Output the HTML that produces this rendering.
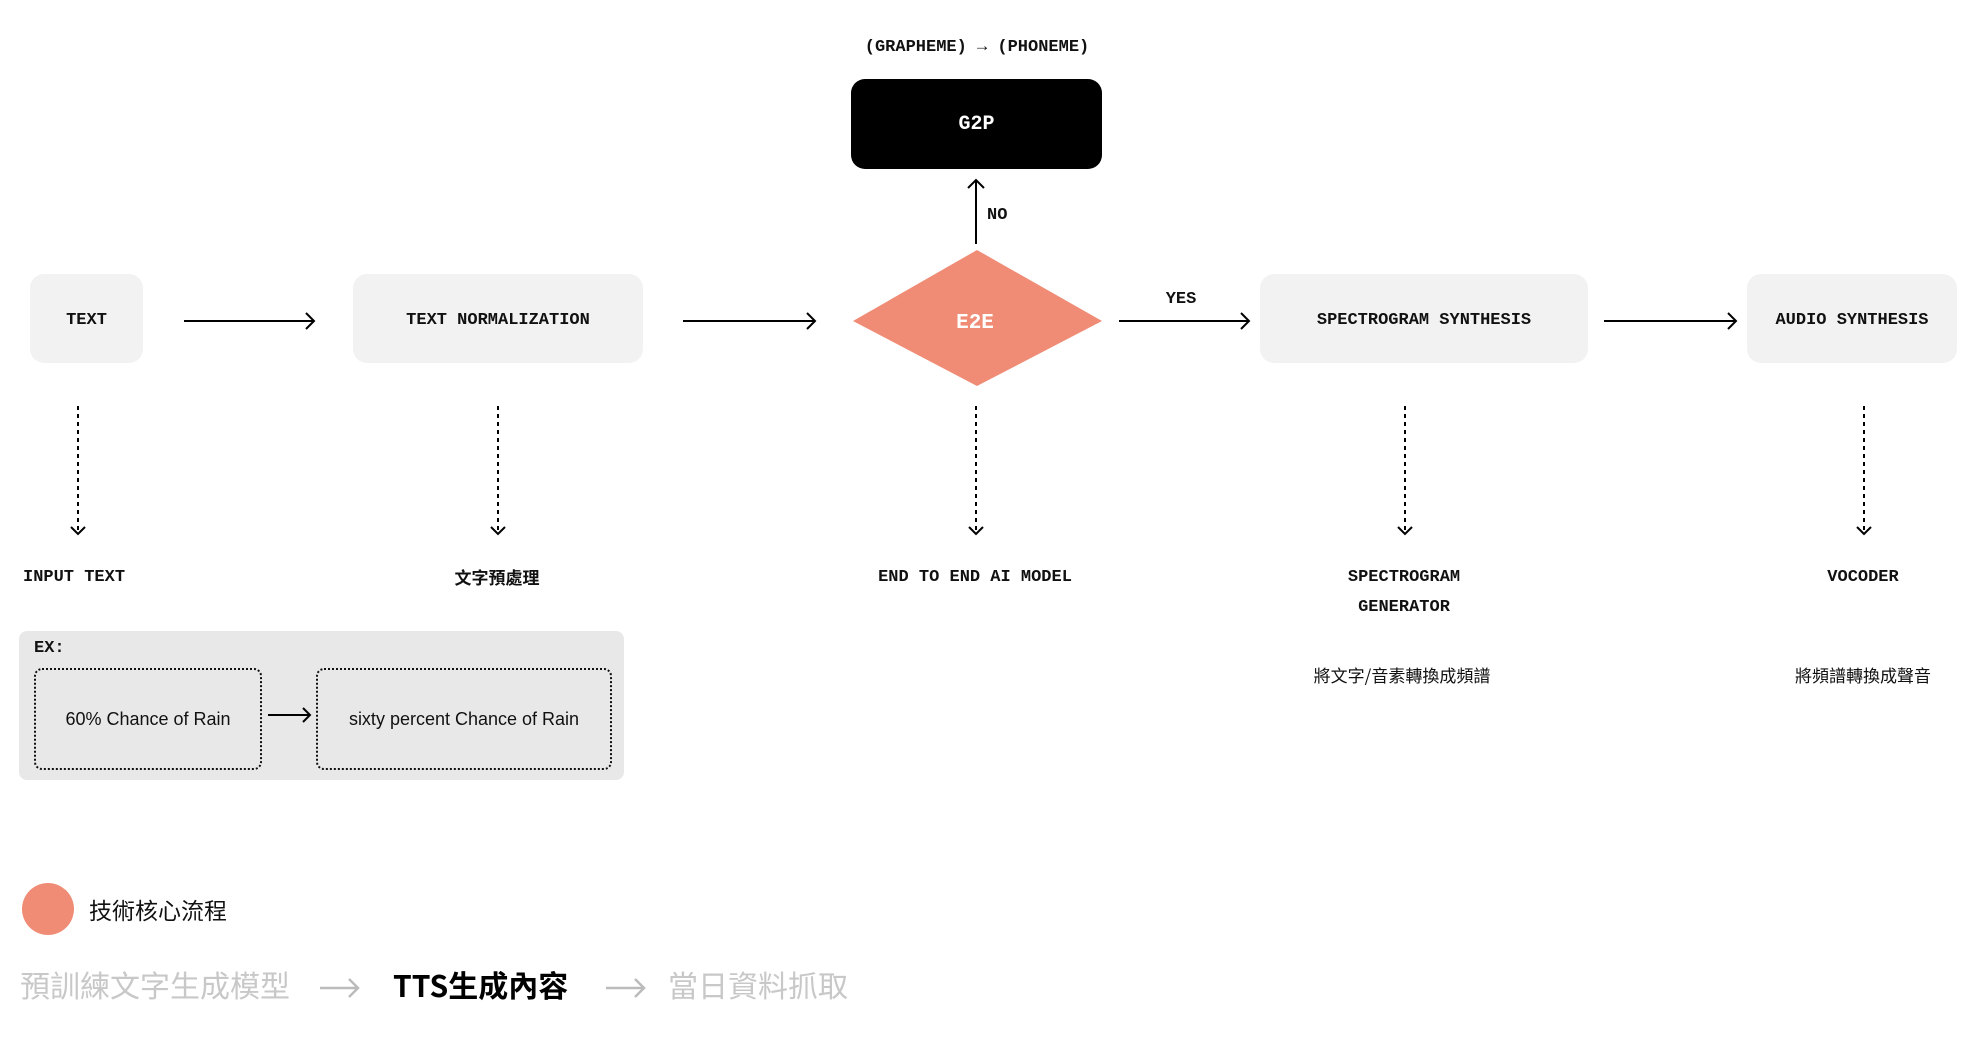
<!DOCTYPE html>
<html><head><meta charset="utf-8"><style>
body{margin:0;width:1972px;height:1037px;background:#fff;position:relative;overflow:hidden;font-family:"Liberation Sans","Noto Sans CJK TC",sans-serif;}
.a{position:absolute;}
.m{font-family:"Liberation Mono","Noto Sans CJK TC",monospace;font-weight:bold;font-size:17px;color:#111;white-space:nowrap;}
.box{position:absolute;background:#f2f2f2;border-radius:14px;display:flex;align-items:center;justify-content:center;}
.c{transform:translateX(-50%);text-align:center;}
.cj{font-family:"Noto Sans CJK TC",sans-serif;font-size:17px;color:#111;white-space:nowrap;}
</style></head><body>
<svg class="a" style="left:0;top:0" width="1972" height="1037">
<g stroke="#000" stroke-width="2" fill="none">
<line x1="184" y1="321" x2="313" y2="321"/><polyline points="306,313 314,321 306,329"/>
<line x1="683" y1="321" x2="814" y2="321"/><polyline points="807,313 815,321 807,329"/>
<line x1="1119" y1="321" x2="1248" y2="321"/><polyline points="1241,313 1249,321 1241,329"/>
<line x1="1604" y1="321" x2="1735" y2="321"/><polyline points="1728,313 1736,321 1728,329"/>
<line x1="976" y1="244" x2="976" y2="181"/><polyline points="968,188 976,180 984,188"/>
<g stroke-dasharray="4,4">
<line x1="78" y1="406" x2="78" y2="532"/><line x1="498" y1="406" x2="498" y2="532"/><line x1="976" y1="406" x2="976" y2="532"/><line x1="1405" y1="406" x2="1405" y2="532"/><line x1="1864" y1="406" x2="1864" y2="532"/>
</g>
<polyline points="71,527 78,534 85,527"/><polyline points="491,527 498,534 505,527"/><polyline points="969,527 976,534 983,527"/><polyline points="1398,527 1405,534 1412,527"/><polyline points="1857,527 1864,534 1871,527"/>
</g>
<polygon points="977,250 1102,321 977,386 853,321" fill="#f08c75"/>
<g stroke="#bbb" stroke-width="2.5" fill="none">
<line x1="320" y1="988" x2="358" y2="988"/><polyline points="349,979 358,988 349,997"/>
<line x1="606" y1="988" x2="644" y2="988"/><polyline points="635,979 644,988 635,997"/>
</g>
</svg>
<div class="a m c" style="left:977px;top:38px">(GRAPHEME) → (PHONEME)</div>
<div class="box" style="left:851px;top:79px;width:251px;height:90px;background:#000;border-radius:14px"><span class="m" style="color:#fff;font-size:20px">G2P</span></div>
<div class="a m" style="left:987px;top:206px">NO</div>
<div class="a m c" style="left:1181px;top:290px">YES</div>
<div class="a m c" style="left:975px;top:312px;color:#fff;font-size:21px">E2E</div>
<div class="box" style="left:30px;top:274px;width:113px;height:89px;padding-top:3px;box-sizing:border-box"><span class="m">TEXT</span></div>
<div class="box" style="left:353px;top:274px;width:290px;height:89px;padding-top:3px;box-sizing:border-box"><span class="m">TEXT NORMALIZATION</span></div>
<div class="box" style="left:1260px;top:274px;width:328px;height:89px;padding-top:3px;box-sizing:border-box"><span class="m">SPECTROGRAM SYNTHESIS</span></div>
<div class="box" style="left:1747px;top:274px;width:210px;height:89px;padding-top:3px;box-sizing:border-box"><span class="m">AUDIO SYNTHESIS</span></div>
<div class="a m" style="left:23px;top:568px">INPUT TEXT</div>
<div class="a m c" style="left:497px;top:564px">文字預處理</div>
<div class="a m c" style="left:975px;top:568px">END TO END AI MODEL</div>
<div class="a m c" style="left:1404px;top:563px;line-height:30px">SPECTROGRAM<br>GENERATOR</div>
<div class="a m c" style="left:1863px;top:568px">VOCODER</div>
<div class="a cj c" style="left:1402px;top:662px">將文字/音素轉換成頻譜</div>
<div class="a cj c" style="left:1863px;top:662px">將頻譜轉換成聲音</div>
<div class="a" style="left:19px;top:631px;width:605px;height:149px;background:#e8e8e8;border-radius:8px"></div>
<div class="a m" style="left:34px;top:639px">EX:</div>
<div class="box" style="left:34px;top:668px;width:224px;height:98px;background:transparent;border:2px dotted #111;border-radius:8px;font-size:18px;color:#111">60% Chance of Rain</div>
<div class="box" style="left:316px;top:668px;width:292px;height:98px;background:transparent;border:2px dotted #111;border-radius:8px;font-size:18px;color:#111">sixty percent Chance of Rain</div>
<svg class="a" style="left:0;top:0" width="400" height="800"><g stroke="#000" stroke-width="2" fill="none"><line x1="268" y1="715" x2="310" y2="715"/><polyline points="303,708 310,715 303,722"/></g></svg>
<div class="a" style="left:22px;top:883px;width:52px;height:52px;border-radius:50%;background:#f08c75"></div>
<div class="a cj" style="left:89px;top:892px;font-size:23px">技術核心流程</div>
<div class="a cj" style="left:20px;top:962px;font-size:30px;color:#c8c8c8">預訓練文字生成模型</div>
<div class="a cj" style="left:393px;top:962px;font-size:30px;color:#000;font-weight:bold">TTS生成內容</div>
<div class="a cj" style="left:668px;top:962px;font-size:30px;color:#c8c8c8">當日資料抓取</div>
</body></html>
